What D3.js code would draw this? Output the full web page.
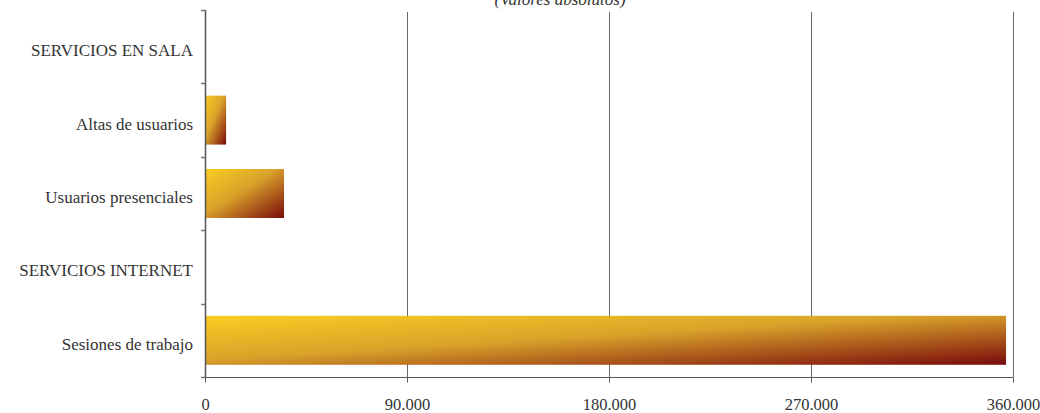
<!DOCTYPE html>
<html>
<head>
<meta charset="utf-8">
<script src="https://cdn.jsdelivr.net/npm/d3@7"></script>
<style>
  html, body { margin: 0; padding: 0; background: #fff; }
  svg { display: block; }
</style>
</head>
<body>
<svg id="chart" width="1040" height="413"></svg>
<script>
const categories = ["SERVICIOS EN SALA", "Altas de usuarios", "Usuarios presenciales", "SERVICIOS INTERNET", "Sesiones de trabajo"];
const values = [null, 9400, 35200, null, 356900];
const xTicks = [0, 90000, 180000, 270000, 360000];
const xTickLabels = ["0", "90.000", "180.000", "270.000", "360.000"];
const title = "(Valores absolutos)";

(function () {
const svg = d3.select("#chart");
const mLeft = 205, mRight = 1013, mTop = 10, mBottom = 377;

const x = d3.scaleLinear().domain([0, 360000]).range([mLeft, mRight]);
const y = d3.scaleBand().domain(categories).range([mTop, mBottom]).paddingInner(0.333).paddingOuter(0.1665);

const defs = svg.append("defs");
const grad = defs.append("linearGradient").attr("id", "barGrad")
  .attr("x1", 0).attr("y1", 0).attr("x2", 1).attr("y2", 1);
grad.append("stop").attr("offset", "0%").attr("stop-color", "#fbcc22");
grad.append("stop").attr("offset", "45%").attr("stop-color", "#d9a22a");
grad.append("stop").attr("offset", "100%").attr("stop-color", "#7a0a0c");

// title (partially cut off at top, as in the reference)
svg.append("text").attr("x", 560).attr("y", 5)
  .attr("text-anchor", "middle")
  .attr("font-family", "'Liberation Serif', 'DejaVu Serif', serif")
  .attr("font-style", "italic")
  .attr("font-size", 17)
  .attr("fill", "#333")
  .text(title);

// gridlines
svg.append("g").selectAll("line").data(xTicks.slice(1)).join("line")
  .attr("x1", d => Math.round(x(d)) + 0.5).attr("x2", d => Math.round(x(d)) + 0.5)
  .attr("y1", mTop + 2).attr("y2", mBottom)
  .attr("stroke", "#666").attr("stroke-width", 1);

// bars
svg.append("g").selectAll("rect")
  .data(categories.map((c, i) => ({c, v: values[i]})).filter(d => d.v != null))
  .join("rect")
  .attr("x", x(0))
  .attr("y", d => y(d.c))
  .attr("width", d => x(d.v) - x(0))
  .attr("height", y.bandwidth())
  .attr("fill", "url(#barGrad)");

// x axis
const xAxis = d3.axisBottom(x).tickValues(xTicks).tickFormat((d, i) => xTickLabels[i]).tickSize(5).tickPadding(16);
const gx = svg.append("g").attr("transform", `translate(0,${mBottom + 0.5})`).call(xAxis);
gx.select(".domain").attr("stroke", "#555").attr("d", `M${mLeft},0H${mRight}`);
gx.selectAll(".tick line").attr("stroke", "#555");
gx.selectAll(".tick text")
  .attr("font-family", "'Liberation Serif', 'DejaVu Serif', serif")
  .attr("font-size", 16.5).attr("fill", "#333");

// y axis line and ticks at band boundaries
const gy = svg.append("g");
gy.append("line").attr("x1", mLeft + 0.5).attr("x2", mLeft + 0.5)
  .attr("y1", mTop).attr("y2", mBottom)
  .attr("stroke", "#555").attr("stroke-width", 1.5);
const boundaries = d3.range(categories.length + 1).map(i => mTop + i * y.step());
gy.selectAll("line.tk").data(boundaries).join("line").attr("class", "tk")
  .attr("x1", mLeft - 4).attr("x2", mLeft)
  .attr("y1", d => Math.round(d) + 0.5).attr("y2", d => Math.round(d) + 0.5)
  .attr("stroke", "#777").attr("stroke-width", 1.5);

gy.selectAll("text").data(categories).join("text")
  .attr("x", mLeft - 12)
  .attr("y", d => y(d) + y.bandwidth() / 2 + 9.5)
  .attr("text-anchor", "end")
  .attr("font-family", "'Liberation Serif', 'DejaVu Serif', serif")
  .attr("font-size", 17)
  .attr("fill", "#333")
  .text(d => d);
})();
</script>
</body>
</html>
